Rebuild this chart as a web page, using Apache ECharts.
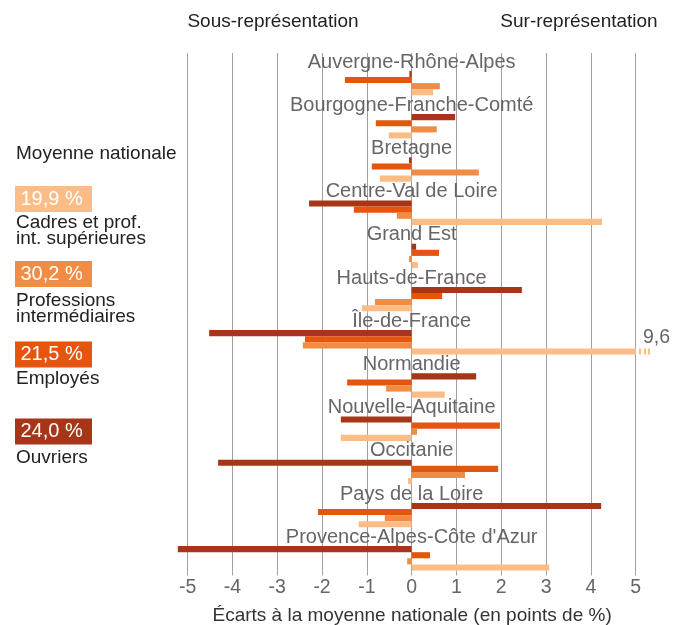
<!DOCTYPE html>
<html>
<head>
<meta charset="utf-8">
<title>Écarts à la moyenne nationale par région</title>
<script src="https://cdn.jsdelivr.net/npm/echarts@6/dist/echarts.min.js"></script>
<style>
  html, body { margin: 0; padding: 0; background: #fff; }
  #chart { width: 675px; height: 625px; }
</style>
</head>
<body>
<div id="chart"></div>
<script>
// régions, de haut en bas
var regions = ['Auvergne-Rhône-Alpes', 'Bourgogne-Franche-Comté', 'Bretagne', 'Centre-Val de Loire',
  'Grand Est', 'Hauts-de-France', 'Île-de-France', 'Normandie', 'Nouvelle-Aquitaine',
  'Occitanie', 'Pays de la Loire', "Provence-Alpes-Côte d'Azur"];

// écarts à la moyenne nationale (points de %)
var ouvriers  = [-0.05, 0.97, -0.06, -2.29, 0.10, 2.46, -4.52, 1.44, -1.58, -4.32, 4.23, -5.22];
var employes  = [-1.49, -0.80, -0.89, -1.29, 0.61, 0.68, -2.38, -1.44, 1.97, 1.93, -2.09, 0.41];
var profInter = [0.63, 0.56, 1.50, -0.33, -0.06, -0.82, -2.43, -0.57, 0.12, 1.19, -0.60, -0.10];
var cadres    = [0.48, -0.51, -0.71, 4.25, 0.14, -1.11, 9.6, 0.74, -1.58, -0.08, -1.18, 3.07];

var ticks = [-5, -4, -3, -2, -1, 0, 1, 2, 3, 4, 5];

// moyenne nationale (légende, de haut en bas)
var legendValues = ['19,9 %', '30,2 %', '21,5 %', '24,0 %'];
var legendNames = ['Cadres et prof.\nint. supérieures', 'Professions\nintermédiaires', 'Employés', 'Ouvriers'];

var colors = { cadres: '#fbbd85', prof: '#f28c43', employes: '#e6550d', ouvriers: '#a63617' };
var legendColors = [colors.cadres, colors.prof, colors.employes, colors.ouvriers];
var FONT = '"Liberation Sans", Arial, sans-serif';

var X_MIN = -5.3, X_MAX = 5.32, GRID_LEFT = 174.2, GRID_RIGHT = 25;
// décalage des noms de région pour les centrer sur le zéro
var zeroShift = (675 - GRID_LEFT - GRID_RIGHT) * (0 - X_MIN) / (X_MAX - X_MIN);

// barre hors échelle (Île-de-France, cadres) : fin en pointillés
var brokenEnd = {
  type: 'linear', x: 0, y: 0, x2: 1, y2: 0,
  colorStops: [
    { offset: 0, color: colors.cadres }, { offset: 0.941, color: colors.cadres },
    { offset: 0.941, color: '#fff' }, { offset: 0.954, color: '#fff' },
    { offset: 0.954, color: colors.cadres }, { offset: 0.964, color: colors.cadres },
    { offset: 0.964, color: '#fff' }, { offset: 0.973, color: '#fff' },
    { offset: 0.973, color: colors.cadres }, { offset: 0.982, color: colors.cadres },
    { offset: 0.982, color: '#fff' }, { offset: 0.991, color: '#fff' },
    { offset: 0.991, color: colors.cadres }, { offset: 1, color: colors.cadres }
  ]
};
var cadresData = cadres.map(function (v) {
  if (v > X_MAX) {
    return {
      value: v,
      itemStyle: { color: brokenEnd },
      label: {
        show: true, position: 'right', offset: [-12, -14],
        formatter: String(v).replace('.', ','),
        fontSize: 19.5, color: '#666', fontFamily: FONT
      }
    };
  }
  return v;
});

function bar(name, data, color) {
  return {
    name: name, type: 'bar', data: data, barWidth: 6.1, barGap: '0%',
    itemStyle: { color: color }, silent: true
  };
}

var graphic = [
  { type: 'text', x: 273, y: 22, style: { text: 'Sous-représentation', font: '19px ' + FONT, fill: '#222', align: 'center', verticalAlign: 'middle' } },
  { type: 'text', x: 579, y: 22, style: { text: 'Sur-représentation', font: '19px ' + FONT, fill: '#222', align: 'center', verticalAlign: 'middle' } },
  { type: 'text', x: 16, y: 154, style: { text: 'Moyenne nationale', font: '19px ' + FONT, fill: '#222', align: 'left', verticalAlign: 'middle' } }
];
var boxTops = [186, 261, 341.5, 418.5];
var nameCenters = [231, 309, 379, 457.5];
legendValues.forEach(function (v, i) {
  graphic.push({ type: 'rect', shape: { x: 15, y: boxTops[i], width: 77, height: 26 }, style: { fill: legendColors[i] } });
  graphic.push({ type: 'text', x: 20.5, y: boxTops[i] + 13, style: { text: v, font: '20px ' + FONT, fill: '#fff', align: 'left', verticalAlign: 'middle' } });
  graphic.push({ type: 'text', x: 16, y: nameCenters[i], style: { text: legendNames[i], font: '19px ' + FONT, lineHeight: 16, fill: '#222', align: 'left', verticalAlign: 'middle' } });
});

var chart = echarts.init(document.getElementById('chart'));
chart.setOption({
  animation: false,
  textStyle: { fontFamily: FONT },
  grid: { left: GRID_LEFT, right: GRID_RIGHT, top: 53, bottom: 53.6, outerBoundsMode: 'none' },
  xAxis: {
    type: 'value', min: X_MIN, max: X_MAX,
    axisLine: { show: false },
    axisTick: { show: true, customValues: ticks, length: 4, lineStyle: { color: '#a0a0a0' } },
    axisLabel: { customValues: ticks, margin: 6, fontSize: 19.5, color: '#666', fontFamily: FONT },
    splitLine: { show: true, lineStyle: { color: '#a0a0a0', width: 1 } },
    name: 'Écarts à la moyenne nationale (en points de %)',
    nameLocation: 'middle', nameGap: 35,
    nameTextStyle: { fontSize: 19, color: '#333', fontFamily: FONT }
  },
  yAxis: {
    type: 'category', data: regions, inverse: true,
    axisLine: { show: false, onZero: false },
    axisTick: { show: false },
    splitLine: { show: false },
    axisLabel: {
      interval: 0, align: 'center', margin: -zeroShift, verticalAlign: 'bottom', lineHeight: 25,
      fontSize: 20, color: '#666', fontFamily: FONT
    }
  },
  series: [
    // série vide : réserve l'espace du nom de région au-dessus des barres
    { name: 'espace', type: 'bar', data: [], barWidth: 17, barGap: '0%', silent: true },
    bar('Ouvriers', ouvriers, colors.ouvriers),
    bar('Employés', employes, colors.employes),
    bar('Professions intermédiaires', profInter, colors.prof),
    bar('Cadres et prof. int. supérieures', cadresData, colors.cadres)
  ],
  graphic: graphic
});
</script>
</body>
</html>
